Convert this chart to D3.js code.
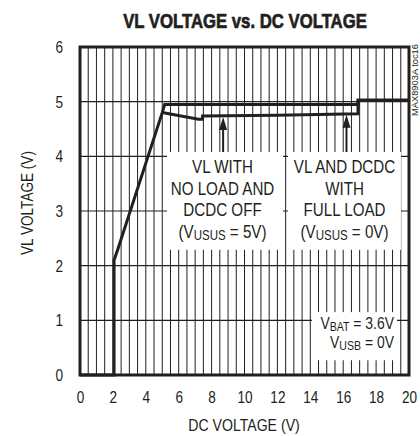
<!DOCTYPE html>
<html>
<head>
<meta charset="utf-8">
<script src="https://cdn.jsdelivr.net/npm/d3@7"></script>
<style>
  body { margin: 0; background: #fff; }
  svg text { font-family: "Liberation Sans", Arial, sans-serif; fill: #231f20; }
</style>
</head>
<body>
<svg></svg>
<script>
let width = 420
let height = 436

// tick labels
let xTicks = [0, 2, 4, 6, 8, 10, 12, 14, 16, 18, 20]
let yTicks = [0, 1, 2, 3, 4, 5, 6]

// VL with no load, DCDC off (VUSUS = 5V)
let noLoadX = [0, 2.07, 2.07, 2.3, 5.0, 5.15, 16.9, 16.9, 20]
let noLoadY = [0, 0, 2.1, 2.3, 4.8, 4.95, 4.95, 5.03, 5.03]

// VL and DCDC with full load (VUSUS = 0V)
let fullLoadX = [5.0, 7.2, 7.45, 7.45, 12, 16.9, 16.9]
let fullLoadY = [4.8, 4.68, 4.68, 4.74, 4.75, 4.78, 5.03]

let svg = d3.select('svg')
svg.attr('width', width).attr('height', height)

let xScale = d3.scaleLinear().domain([0, 20]).range([80, 409])
let yScale = d3.scaleLinear().domain([0, 6]).range([375, 47])

// squeeze text horizontally around its anchor point
let condense = (sel, k) => {
  sel.each(function () {
    let x = +(this.getAttribute('x') || 0)
    d3.select(this).attr('transform', `translate(${x},0) scale(${k},1) translate(${-x},0)`)
  })
}

// grid
let vGrid = d3.range(0.5, 20, 0.5)
svg.append('g')
   .selectAll('line')
   .data(vGrid)
   .enter()
   .append('line')
   .attr('x1', (d) => xScale(d))
   .attr('x2', (d) => xScale(d))
   .attr('y1', yScale(0))
   .attr('y2', yScale(6))
   .attr('stroke', '#231f20')
   .attr('stroke-width', 1)

svg.append('g')
   .selectAll('line')
   .data(yTicks.slice(1, 6))
   .enter()
   .append('line')
   .attr('x1', xScale(0))
   .attr('x2', xScale(20))
   .attr('y1', (d) => yScale(d))
   .attr('y2', (d) => yScale(d))
   .attr('stroke', '#231f20')
   .attr('stroke-width', 1.2)

// white label boxes (grid shows through the gaps)
let boxes = [
  [5.29, 12.34, 4.08, 2.29],
  [12.64, 19.51, 4.08, 2.29],
  [14.1, 19.27, 1.15, 0.27]
]
svg.append('g')
   .selectAll('rect')
   .data(boxes)
   .enter()
   .append('rect')
   .attr('x', (d) => xScale(d[0]))
   .attr('y', (d) => yScale(d[2]))
   .attr('width', (d) => xScale(d[1]) - xScale(d[0]))
   .attr('height', (d) => yScale(d[3]) - yScale(d[2]))
   .attr('fill', '#fff')

// frame
svg.append('rect')
   .attr('x', xScale(0))
   .attr('y', yScale(6))
   .attr('width', xScale(20) - xScale(0))
   .attr('height', yScale(0) - yScale(6))
   .attr('fill', 'none')
   .attr('stroke', '#231f20')
   .attr('stroke-width', 3)

// curves
let line = d3.line().x((d) => xScale(d[0])).y((d) => yScale(d[1]))
let curves = [d3.zip(noLoadX, noLoadY), d3.zip(fullLoadX, fullLoadY)]
svg.append('g')
   .selectAll('path')
   .data(curves)
   .enter()
   .append('path')
   .attr('d', line)
   .attr('fill', 'none')
   .attr('stroke', '#231f20')
   .attr('stroke-width', 3)
   .attr('stroke-linejoin', 'miter')

// arrows
let arrowX = [8.7, 16.2]
let arrowTip = [4.72, 4.76]
arrowX.forEach((ax, i) => {
  let tipY = yScale(arrowTip[i])
  svg.append('line')
     .attr('x1', xScale(ax)).attr('x2', xScale(ax))
     .attr('y1', yScale(4.08)).attr('y2', tipY + 10)
     .attr('stroke', '#231f20').attr('stroke-width', 2)
  svg.append('path')
     .attr('d', `M${xScale(ax)},${tipY} L${xScale(ax) - 4},${tipY + 13} L${xScale(ax) + 4},${tipY + 13} Z`)
     .attr('fill', '#231f20')
})

// axes
let xAxis = d3.axisBottom(xScale).tickValues(xTicks).tickSize(0).tickPadding(16).tickFormat(d3.format('d'))
let yAxis = d3.axisLeft(yScale).tickValues(yTicks).tickSize(0).tickPadding(17).tickFormat(d3.format('d'))

let gx = svg.append('g').attr('transform', 'translate(0,' + yScale(0) + ')').call(xAxis)
let gy = svg.append('g').attr('transform', 'translate(' + xScale(0) + ',0)').call(yAxis)
gx.select('.domain').remove()
gy.select('.domain').remove()
svg.selectAll('.tick text')
   .attr('font-size', 17)
   .attr('font-family', null)
   .attr('fill', '#231f20')
   .call(condense, 0.8)

// title and axis labels
let title = svg.append('text')
   .attr('x', 245).attr('y', 28)
   .attr('text-anchor', 'middle')
   .attr('font-size', 21)
   .attr('font-weight', 'bold')
   .attr('stroke', '#231f20')
   .attr('stroke-width', 0.7)
   .text('VL VOLTAGE vs. DC VOLTAGE')
title.call(condense, 244 / title.node().getComputedTextLength())

svg.append('text')
   .attr('x', 244).attr('y', 431)
   .attr('text-anchor', 'middle')
   .attr('font-size', 17)
   .text('DC VOLTAGE (V)')
   .call(condense, 0.83)

svg.append('text')
   .attr('transform', 'translate(33,203) rotate(-90) scale(0.8,1)')
   .attr('text-anchor', 'middle')
   .attr('font-size', 17)
   .text('VL VOLTAGE (V)')

svg.append('text')
   .attr('transform', 'translate(418,116) rotate(-90)')
   .attr('font-size', 9)
   .attr('fill', '#666')
   .attr('textLength', 72)
   .attr('lengthAdjust', 'spacingAndGlyphs')
   .text('MAX8903A toc16')

// box texts
let addLines = (cx, lines, y0, step, anchor, size) => {
  lines.forEach((l, i) => {
    let t = svg.append('text')
       .attr('x', cx).attr('y', y0 + i * step)
       .attr('text-anchor', anchor)
       .attr('font-size', size)
    l.forEach((part) => {
      let s = t.append('tspan').text(part[0])
      if (part[1]) s.attr('font-size', size * 0.76).attr('dy', 2)
      else if (part[2]) s.attr('dy', -2)
    })
    condense(t, 0.82)
  })
}

addLines(222.5, [[['VL WITH']], [['NO LOAD AND']], [['DCDC OFF']], [['(V'], ['USUS', 1], [' = 5V)', 0, 1]]], 173, 21.6, 'middle', 18.5)
addLines(344.5, [[['VL AND DCDC']], [['WITH']], [['FULL LOAD']], [['(V'], ['USUS', 1], [' = 0V)', 0, 1]]], 173, 21.6, 'middle', 18.5)
addLines(394, [[['V'], ['BAT', 1], [' = 3.6V', 0, 1]], [['V'], ['USB', 1], [' = 0V', 0, 1]]], 329, 19.5, 'end', 17)
</script>
</body>
</html>
